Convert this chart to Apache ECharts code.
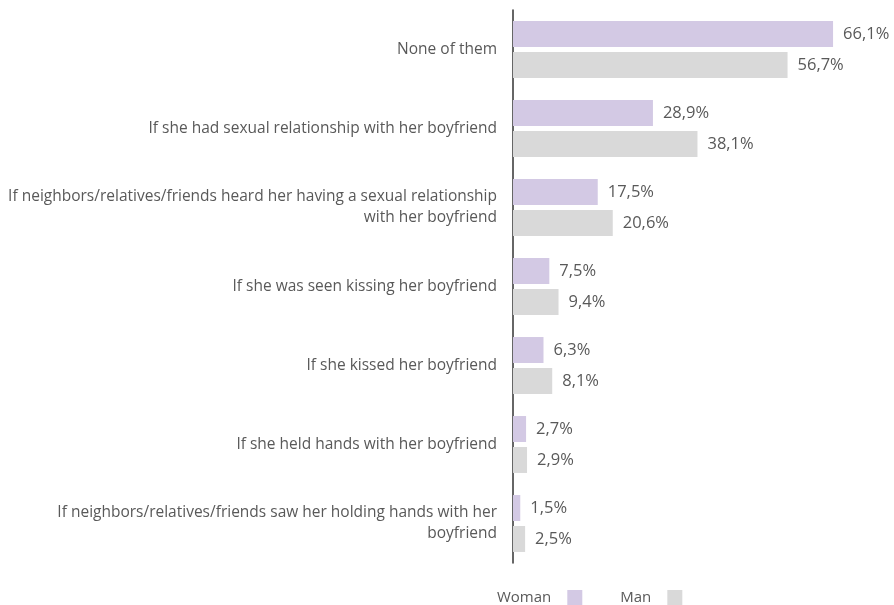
<!DOCTYPE html>
<html>
<head>
<meta charset="utf-8">
<script src="https://cdn.jsdelivr.net/npm/echarts@6/dist/echarts.min.js"></script>
<style>
  html, body { margin: 0; padding: 0; background: #fff; }
  #main { width: 894px; height: 605px; }
</style>
</head>
<body>
<div id="main"></div>
<script>
// categories, top to bottom
const categories = [
  'None of them',
  'If she had sexual relationship with her boyfriend',
  'If neighbors/relatives/friends heard her having a sexual relationship\nwith her boyfriend',
  'If she was seen kissing her boyfriend',
  'If she kissed her boyfriend',
  'If she held hands with her boyfriend',
  'If neighbors/relatives/friends saw her holding hands with her\nboyfriend'
]
const woman = [66.1, 28.9, 17.5, 7.5, 6.3, 2.7, 1.5]
const man = [56.7, 38.1, 20.6, 9.4, 8.1, 2.9, 2.5]

const textColor = '#595959'
const font = 'Open Sans'

var myChart = echarts.init(document.getElementById('main'))

const labelOpt = {
  show: true,
  position: 'right',
  distance: 10,
  color: textColor,
  fontFamily: font,
  fontSize: 16.5,
  formatter: function (p) {
    return p.value.toFixed(1).replace('.', ',') + '%'
  }
}

var option = {
  animation: false,
  grid: {
    left: 513,
    right: 13,
    top: 10,
    bottom: 42
  },
  legend: {
    data: ['Woman', 'Man'],
    left: 492,
    top: 585,
    align: 'right',
    itemWidth: 15,
    itemHeight: 15,
    itemGap: 38,
    icon: 'rect',
    textStyle: {
      color: textColor,
      fontFamily: font,
      fontSize: 15,
      padding: [0, 11, 0, 0]
    }
  },
  xAxis: {
    type: 'value',
    min: 0,
    max: 76,
    show: false
  },
  yAxis: {
    type: 'category',
    inverse: true,
    data: categories,
    axisLine: { show: true, lineStyle: { color: '#333333', width: 1.5 } },
    axisTick: { show: false },
    axisLabel: {
      margin: 16,
      color: textColor,
      fontFamily: font,
      fontSize: 15.5,
      lineHeight: 21,
      align: 'right'
    }
  },
  series: [
    {
      name: 'Woman',
      type: 'bar',
      data: woman,
      barWidth: 26,
      barGap: '19%',
      itemStyle: { color: '#d3c9e4' },
      label: labelOpt
    },
    {
      name: 'Man',
      type: 'bar',
      data: man,
      barWidth: 26,
      itemStyle: { color: '#d9d9d9' },
      label: labelOpt
    }
  ]
}

myChart.setOption(option)
</script>
</body>
</html>
